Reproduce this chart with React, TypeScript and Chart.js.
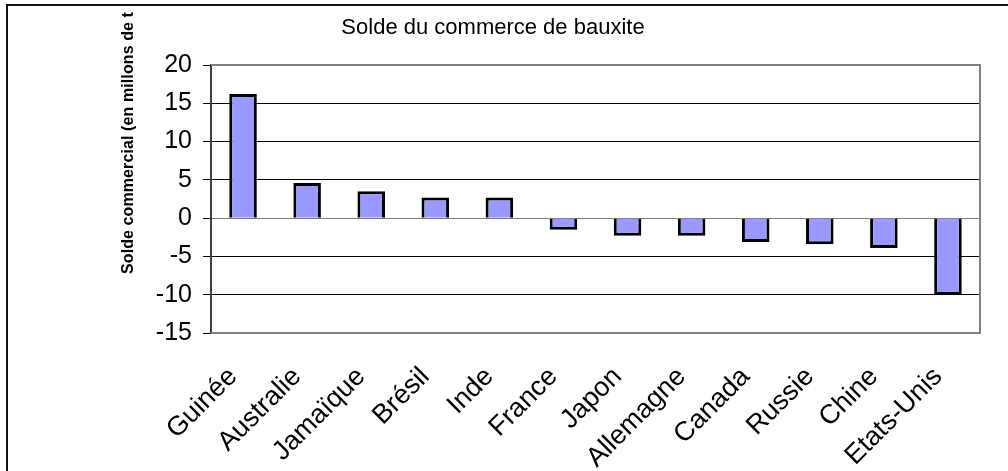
import React, { useEffect, useRef } from "react";
import { Chart, registerables } from "chart.js";

Chart.register(...registerables);

const categories = ["Guinée", "Australie", "Jamaïque", "Brésil", "Inde", "France", "Japon", "Allemagne", "Canada", "Russie", "Chine", "Etats-Unis"];
const soldeValues = [16.2, 4.6, 3.5, 2.7, 2.7, -1.5, -2.3, -2.3, -3.1, -3.4, -3.9, -10];
const chartTitle = "Solde du commerce de bauxite";
const yAxisTitle = "Solde commercial (en millons de t";
const yMin = -15;
const yMax = 20;
const yStep = 5;

const FONT = "'Liberation Sans', Arial, sans-serif";

const decorPlugin = {
  id: "decor",
  beforeDatasetsDraw(chart: any) {
    const { ctx, chartArea } = chart;
    ctx.save();
    ctx.strokeStyle = "#808080";
    ctx.lineWidth = 2;
    ctx.beginPath();
    ctx.moveTo(chartArea.left, chartArea.top);
    ctx.lineTo(chartArea.right, chartArea.top);
    ctx.lineTo(chartArea.right, chartArea.bottom);
    ctx.lineTo(chartArea.left, chartArea.bottom);
    ctx.stroke();
    ctx.restore();
  },
  afterDraw(chart: any) {
    const { ctx, width, height } = chart;
    ctx.save();
    // outer frame (top and left edges visible)
    ctx.fillStyle = "#111";
    ctx.fillRect(6, 4, width - 6, 2);
    ctx.fillRect(6, 4, 2, height - 4);
    // title
    ctx.fillStyle = "#000";
    ctx.font = `22px ${FONT}`;
    ctx.textAlign = "center";
    ctx.textBaseline = "middle";
    ctx.fillText(chartTitle, 493, 28);
    // y axis title
    ctx.translate(129, 143);
    ctx.rotate(-Math.PI / 2);
    ctx.font = `bold 16px ${FONT}`;
    (ctx as any).letterSpacing = "0.1px";
    ctx.fillText(yAxisTitle, 0, 0);
    ctx.restore();
  },
};

export default function App() {
  const ref = useRef<HTMLCanvasElement>(null);
  useEffect(() => {
    if (!ref.current) return;
    const chart = new Chart(ref.current, {
      type: "bar",
      data: {
        labels: categories,
        datasets: [
          {
            data: soldeValues,
            backgroundColor: "#9999FF",
            borderColor: "#000000",
            borderWidth: 3,
            categoryPercentage: 1,
            barPercentage: 0.43,
          },
        ],
      },
      options: {
        animation: false,
        responsive: false,
        layout: { padding: { top: 65, right: 28, left: 0, bottom: 0 } },
        plugins: { legend: { display: false }, title: { display: false }, tooltip: { enabled: false } },
        scales: {
          x: {
            grid: { display: false },
            border: { display: false },
            ticks: {
              autoSkip: false,
              maxRotation: 45,
              minRotation: 45,
              padding: 20,
              labelOffset: -10,
              color: "#000",
              font: { family: FONT, size: 27 },
            },
            afterFit(scale: any) {
              scale.height = 138;
            },
          },
          y: {
            min: yMin,
            max: yMax,
            ticks: {
              stepSize: yStep,
              padding: 11,
              color: "#000",
              font: { family: FONT, size: 25 },
            },
            grid: {
              color: (c: any) => (c.tick && c.tick.value === 0 ? "#808080" : "#000000"),
              lineWidth: 1,
              tickLength: 8,
              tickColor: "#000",
            },
            border: { display: true, color: "#404040", width: 2 },
            afterFit(scale: any) {
              scale.width = 211;
            },
          },
        },
      },
      plugins: [decorPlugin],
    });
    return () => chart.destroy();
  }, []);
  return (
    <div style={{ position: "absolute", left: 0, top: 0, width: 1008, height: 471, overflow: "hidden", background: "#fff" }}>
      <canvas ref={ref} width={1008} height={471} style={{ display: "block" }} />
    </div>
  );
}
